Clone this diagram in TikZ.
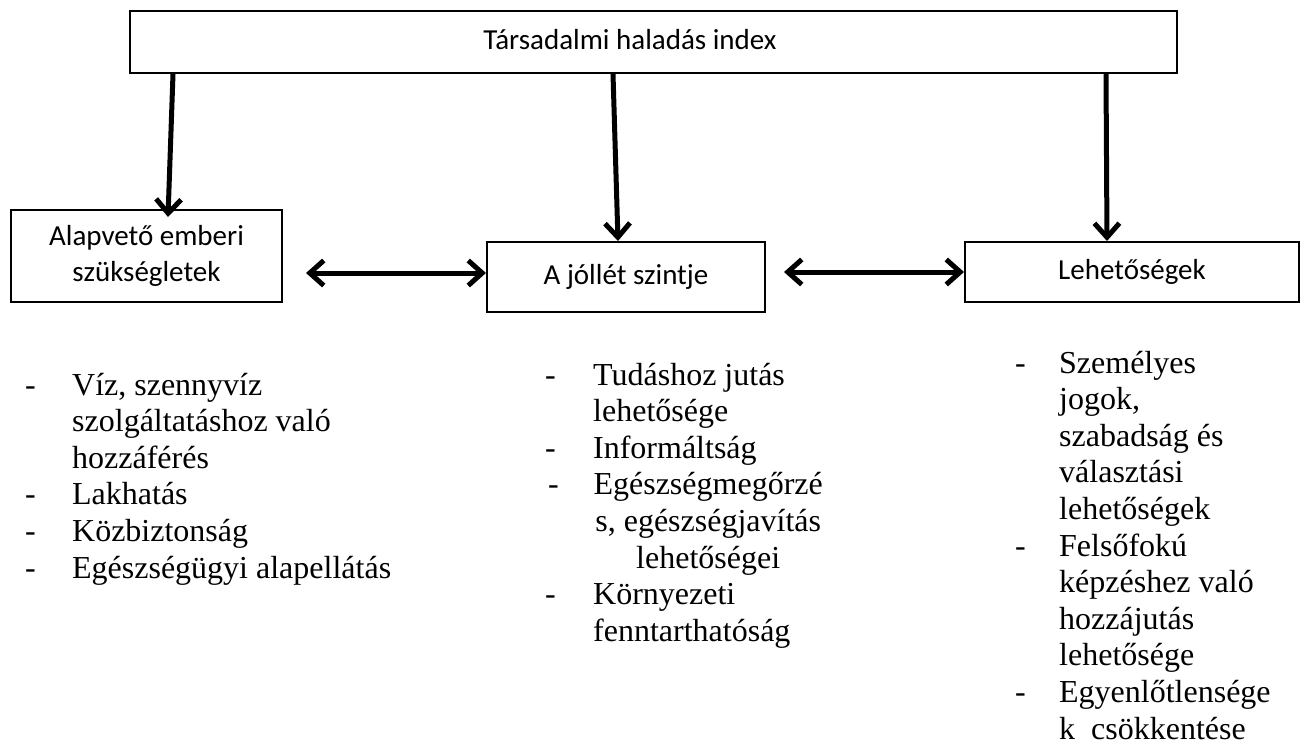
\documentclass[tikz,border=0pt]{standalone}
\usepackage{fontspec}
\setmainfont{Liberation Serif}
\newfontfamily\calibrifont{Carlito}
\usetikzlibrary{arrows.meta}
\tikzset{
  box/.style={draw, line width=2pt, inner sep=0pt, font=\calibrifont\fontsize{29}{36}\selectfont, align=center},
  arr/.style={line width=5pt, -{Straight Barb[length=14pt,width=25pt]}},
  dbl/.style={line width=5pt, {Straight Barb[length=14pt,width=25pt]}-{Straight Barb[length=14pt,width=25pt]}},
  list/.style={anchor=base west, inner sep=0pt, font=\fontsize{32}{36.6}\selectfont}
}
\begin{document}
\begin{tikzpicture}[x=1pt,y=-1pt]
\useasboundingbox (0,0) rectangle (1307,745);
\node[box, minimum width=1047pt, minimum height=62pt] (top) at (653.5,42) {};
\node[font=\calibrifont\fontsize{29}{36}\selectfont, inner sep=0pt] (title) at (630,40) {Társadalmi haladás index};
\node[box, minimum width=271pt, minimum height=92pt] (left) at (146.5,256) {Alapvető emberi\\szükségletek};
\node[box, minimum width=278pt, minimum height=70pt] (mid) at (626,277) {A jóllét szintje};
\node[box, minimum width=334pt, minimum height=60pt] (right) at (1132,272) {Lehetőségek};
\coordinate (c1) at (173,0);
\coordinate (c1e) at (168,0);
\coordinate (c2) at (613,0);
\coordinate (c2e) at (618,0);
\coordinate (c3) at (1106,0);
\coordinate (c3e) at (1107,0);
\draw[arr] (top.south -| c1) -- ([yshift=-8pt]left.north -| c1e);
\draw[arr] (top.south -| c2) -- (mid.north -| c2e);
\draw[arr] (top.south -| c3) -- (right.north -| c3e);
\draw[dbl] ([xshift=23pt,yshift=4pt]left.east |- mid.west) -- ([yshift=4pt]mid.west);
\draw[dbl] ([xshift=18pt]mid.east |- right.west) -- (right.west);
\node[list] (l1) at (25,395) {\begin{tabular}[t]{@{}p{47pt}@{}l@{}}
-&Víz, szennyvíz\\
&szolgáltatáshoz való\\
&hozzáférés\\
-&Lakhatás\\
-&Közbiztonság\\
-&Egészségügyi alapellátás
\end{tabular}};
\node[list] (l2) at (545,385) {\begin{tabular}[t]{@{}p{48pt}@{}l@{}}
-&Tudáshoz jutás\\
&lehetősége\\
-&Informáltság\\
\hspace{3pt}-&\makebox[230pt][c]{Egészségmegőrzé}\\
&\makebox[230pt][c]{s, egészségjavítás}\\
&\makebox[230pt][c]{lehetőségei}\\
-&Környezeti\\
&fenntarthatóság
\end{tabular}};
\node[list] (l3) at (1015,373) {\begin{tabular}[t]{@{}p{44pt}@{}l@{}}
-&Személyes\\
&jogok,\\
&szabadság és\\
&választási\\
&lehetőségek\\
-&Felsőfokú\\
&képzéshez való\\
&hozzájutás\\
&lehetősége\\
-&Egyenlőtlensége\\
&k\ \ csökkentése
\end{tabular}};
\end{tikzpicture}
\end{document}
